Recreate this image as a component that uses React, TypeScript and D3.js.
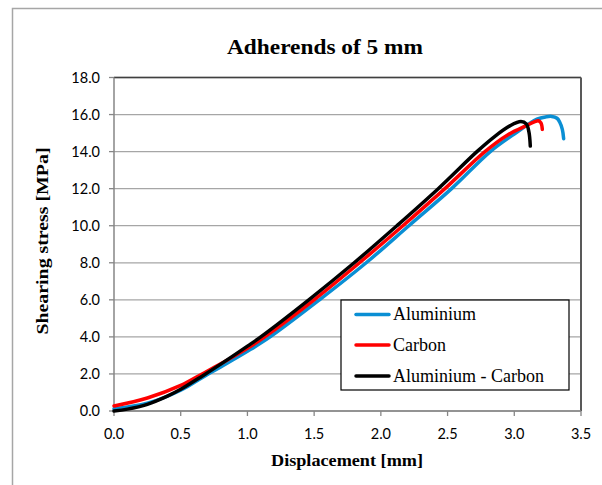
import React from 'react';
import * as d3 from 'd3';

// displacement [mm] / shearing stress [MPa]
const aluX = [0, 0.25, 0.5, 0.66, 0.8, 1.0, 1.17, 1.54, 1.89, 2.21, 2.53, 2.82, 3.0, 3.17, 3.24, 3.28, 3.32, 3.34, 3.36, 3.37];
const aluY = [0.12, 0.42, 1.12, 1.8, 2.38, 3.22, 4.0, 6.0, 8.0, 10.0, 12.0, 14.0, 14.95, 15.75, 15.88, 15.9, 15.8, 15.6, 15.2, 14.7];

const carbX = [0, 0.25, 0.5, 0.66, 0.8, 1.0, 1.13, 1.5, 1.84, 2.165, 2.48, 2.78, 2.95, 3.09, 3.15, 3.18, 3.2, 3.21];
const carbY = [0.27, 0.7, 1.38, 2.0, 2.55, 3.38, 4.0, 6.0, 8.0, 10.0, 12.0, 14.0, 14.9, 15.4, 15.6, 15.67, 15.55, 15.2];

const mixX = [0, 0.1, 0.25, 0.4, 0.5, 0.66, 0.8, 1.0, 1.1, 1.46, 1.8, 2.12, 2.43, 2.72, 2.85, 2.97, 3.05, 3.09, 3.11, 3.12];
const mixY = [0, 0.1, 0.36, 0.8, 1.17, 1.88, 2.53, 3.5, 4.0, 6.0, 8.0, 10.0, 12.0, 14.0, 14.8, 15.4, 15.62, 15.5, 15.05, 14.3];

const seriesNames = ['Aluminium', 'Carbon', 'Aluminium - Carbon'];
const seriesColors = ['#0a8fd4', '#ff0000', '#000000'];

const xTicks = [0, 0.5, 1.0, 1.5, 2.0, 2.5, 3.0, 3.5];
const yTicks = [0, 2, 4, 6, 8, 10, 12, 14, 16, 18];

const W = 602;
const H = 485;
const plot = { left: 114, right: 581, top: 77.5, bottom: 411 };

export default function App() {
  const x = d3.scaleLinear().domain([0, 3.5]).range([plot.left, plot.right]);
  const y = d3.scaleLinear().domain([0, 18]).range([plot.bottom, plot.top]);

  const line = d3
    .line<[number, number]>()
    .x((d) => x(d[0]))
    .y((d) => y(d[1]))
    .curve(d3.curveCatmullRom.alpha(0.5));

  const series = [
    aluX.map((v, i) => [v, aluY[i]] as [number, number]),
    carbX.map((v, i) => [v, carbY[i]] as [number, number]),
    mixX.map((v, i) => [v, mixY[i]] as [number, number]),
  ];

  const tickFont = 'Lato, "Open Sans", sans-serif';
  const serif = '"Liberation Serif", "DejaVu Serif", serif';

  const legend = { x: 341, y: 300, w: 228, h: 90 };
  const legendRows = [314.5, 345, 376];

  return (
    <svg width={W} height={H} style={{ position: 'absolute', left: 0, top: 0, background: '#fff' }}>
      {/* chart frame */}
      <rect x={12.5} y={8.5} width={W} height={H} fill="none" stroke="#a6a6a6" strokeWidth={1.5} />

      <text x={325} y={54} textAnchor="middle" fontFamily={serif} fontWeight="bold" fontSize={21} textLength={196} lengthAdjust="spacingAndGlyphs">
        Adherends of 5 mm
      </text>

      {/* gridlines */}
      {yTicks.map((t) => (
        <line key={'g' + t} x1={plot.left} x2={plot.right} y1={y(t)} y2={y(t)} stroke="#a6a6a6" strokeWidth={1.3} />
      ))}

      {/* plot border top/right */}
      <line x1={plot.left} x2={plot.right} y1={plot.top} y2={plot.top} stroke="#404040" strokeWidth={1.5} />
      <line x1={plot.right} x2={plot.right} y1={plot.top} y2={plot.bottom} stroke="#595959" strokeWidth={2} />

      {/* axes */}
      <line x1={plot.left} x2={plot.left} y1={plot.top} y2={plot.bottom} stroke="#868686" strokeWidth={1.5} />
      <line x1={plot.left} x2={plot.right} y1={plot.bottom} y2={plot.bottom} stroke="#868686" strokeWidth={1.5} />

      {yTicks.map((t) => (
        <g key={'y' + t}>
          <line x1={plot.left - 5} x2={plot.left} y1={y(t)} y2={y(t)} stroke="#868686" strokeWidth={1.3} />
          <text x={100} y={y(t)} dy="0.36em" textAnchor="end" fontFamily={tickFont} fontSize={14.5} fill="#000">
            {t.toFixed(1)}
          </text>
        </g>
      ))}
      {xTicks.map((t) => (
        <g key={'x' + t}>
          <line x1={x(t)} x2={x(t)} y1={plot.bottom} y2={plot.bottom + 5} stroke="#868686" strokeWidth={1.3} />
          <text x={x(t)} y={439} textAnchor="middle" fontFamily={tickFont} fontSize={14.5} fill="#000">
            {t.toFixed(1)}
          </text>
        </g>
      ))}

      {/* curves */}
      {series.map((s, i) => (
        <path key={seriesNames[i]} d={line(s) || ''} fill="none" stroke={seriesColors[i]} strokeWidth={3.5} strokeLinejoin="round" strokeLinecap="round" />
      ))}

      <text x={347} y={466} textAnchor="middle" fontFamily={serif} fontWeight="bold" fontSize={17} textLength={152} lengthAdjust="spacingAndGlyphs">
        Displacement [mm]
      </text>
      <text transform="translate(48,241) rotate(-90)" textAnchor="middle" fontFamily={serif} fontWeight="bold" fontSize={17} textLength={187} lengthAdjust="spacingAndGlyphs">
        Shearing  stress  [MPa]
      </text>

      {/* legend */}
      <rect x={legend.x} y={legend.y} width={legend.w} height={legend.h} fill="#fff" stroke="#000" strokeWidth={1.2} />
      {seriesNames.map((n, i) => (
        <g key={'l' + n}>
          <line x1={356} x2={389} y1={legendRows[i]} y2={legendRows[i]} stroke={seriesColors[i]} strokeWidth={3.5} strokeLinecap="round" />
          <text x={393} y={legendRows[i]} dy="0.33em" fontFamily={serif} fontSize={18} fill="#000">
            {n}
          </text>
        </g>
      ))}
    </svg>
  );
}
